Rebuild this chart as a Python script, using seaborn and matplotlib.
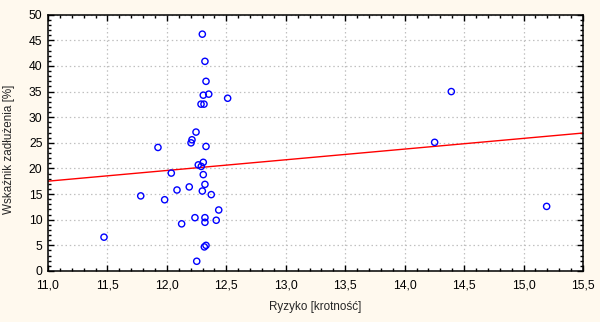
import numpy as np
import pandas as pd
import matplotlib
matplotlib.use("Agg")
import matplotlib.pyplot as plt
from matplotlib.ticker import MultipleLocator, FuncFormatter
import seaborn as sns

# Ryzyko (krotność) vs. wskaźnik zadłużenia (%)
ryzyko = [12.298, 12.320, 12.329, 12.306, 12.352, 12.511, 12.287, 12.312,
          12.245, 12.211, 12.203, 11.925, 12.329, 12.306, 12.264, 12.289,
          12.037, 12.306, 12.320, 12.188, 12.085, 12.298, 11.780, 12.373,
          11.981, 12.436, 12.236, 12.320, 12.320, 12.415, 12.124, 12.329,
          12.315, 12.251, 11.471, 14.392, 14.252, 15.194]
zadluzenie = [46.2, 40.9, 37.0, 34.3, 34.5, 33.7, 32.55, 32.55,
              27.1, 25.6, 25.0, 24.1, 24.3, 21.2, 20.7, 20.4,
              19.1, 18.8, 16.9, 16.4, 15.8, 15.6, 14.65, 14.9,
              13.9, 11.9, 10.4, 10.4, 9.5, 9.9, 9.2, 5.0,
              4.7, 1.9, 6.6, 35.0, 25.1, 12.6]

x_label = "Ryzyko [krotność]"
y_label = "Wskaźnik zadłużenia [%]"

df = pd.DataFrame({"x": ryzyko, "y": zadluzenie})

sns.set_style("white")
plt.rcParams["font.family"] = ["Liberation Sans", "DejaVu Sans"]

bg = "#FFF9EE"
fig = plt.figure(figsize=(6.0, 3.22), dpi=100, facecolor=bg)
ax = fig.add_axes([0.08, 0.1584, 0.8917, 0.796])
ax.set_facecolor("white")

ax.set_xlim(11.0, 15.5)
ax.set_ylim(0, 50)

# linear fit across the full x range
sns.regplot(data=df, x="x", y="y", ax=ax, ci=None, truncate=False,
            scatter=False, line_kws=dict(color="red", lw=1.0, zorder=2))

sns.scatterplot(data=df, x="x", y="y", ax=ax, marker="o", s=20,
                facecolor="none", edgecolor="blue", linewidth=1.0, zorder=3)

ax.set_xlim(11.0, 15.5)
ax.set_ylim(0, 50)

ax.xaxis.set_major_locator(MultipleLocator(0.5))
ax.xaxis.set_minor_locator(MultipleLocator(0.1))
ax.yaxis.set_major_locator(MultipleLocator(5))
ax.yaxis.set_minor_locator(MultipleLocator(1))
ax.xaxis.set_major_formatter(FuncFormatter(lambda v, p: f"{v:.1f}".replace(".", ",")))
ax.yaxis.set_major_formatter(FuncFormatter(lambda v, p: f"{v:.0f}"))

ax.tick_params(which="both", direction="in", top=True, right=True,
               bottom=True, left=True, colors="black", labelsize=8.7)
ax.tick_params(which="major", length=4, width=1)
ax.tick_params(which="minor", length=2.5, width=1)
ax.tick_params(axis="x", pad=6)
ax.tick_params(axis="y", pad=4)

ax.grid(True, which="major", color="#c0c0c0", linestyle=(0, (1.2, 2.2)), lw=0.9)
ax.set_axisbelow(True)
for s in ax.spines.values():
    s.set_color("black")
    s.set_linewidth(1.1)

ax.set_xlabel(x_label, fontsize=8.4, labelpad=7)
ax.set_ylabel(y_label, fontsize=8.4)
ax.yaxis.set_label_coords(-0.062, 0.476)

fig.savefig("out.png", dpi=100, facecolor=bg)
